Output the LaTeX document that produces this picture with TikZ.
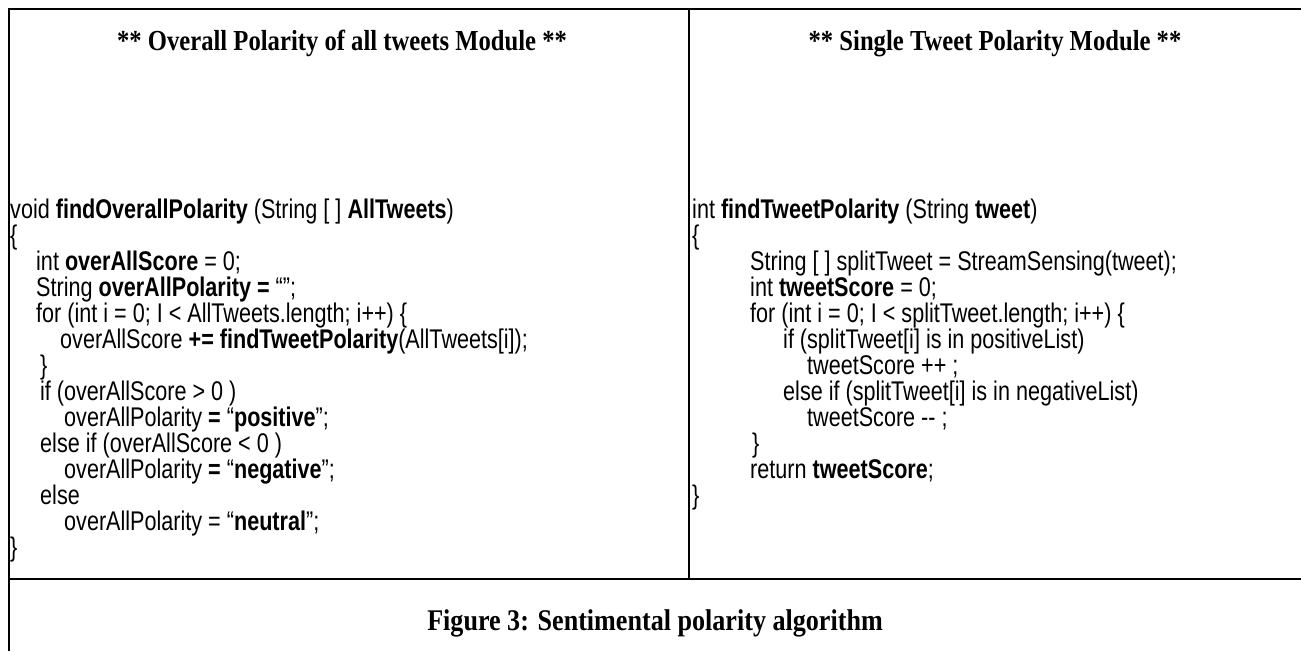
\documentclass[tikz,border=0pt]{standalone}
\usepackage{fontspec}
\setmainfont[Ligatures=TeXOff,FakeStretch=0.8]{Liberation Sans}
\newfontfamily\tnrhead[Ligatures=TeXOff,FakeStretch=0.85]{Liberation Serif}
\newfontfamily\tnrcap[Ligatures=TeXOff,FakeStretch=0.87]{Liberation Serif}
\begin{document}
\begin{tikzpicture}[x=1pt,y=-1pt,
  code/.style={anchor=base west, inner sep=0pt, font=\fontsize{27}{26}\selectfont},
  head/.style={anchor=base, inner sep=0pt, font=\tnrhead\bfseries\fontsize{29}{26}\selectfont},
  capt/.style={anchor=base, inner sep=0pt, font=\tnrcap\bfseries\fontsize{30}{26}\selectfont},
  rulebox/.style={line width=2.6pt}]
\useasboundingbox (0,0) rectangle (1301,651);
% frame
\coordinate (TL) at (9,9);
\coordinate (TR) at (1301,9);
\coordinate (BL) at (9,651);
\coordinate (ML) at (9,579);
\coordinate (MR) at (1301,579);
\coordinate (DT) at (689,9);
\coordinate (DB) at (689,579);
\draw[rulebox] (BL) -- (TL) -- (TR);
\draw[rulebox] (ML) -- (MR);
\draw[rulebox] (DT) -- (DB);
% titles
\node[head] (t1) at (342,50) {** Overall Polarity of all tweets Module **};
\node[head] (t2) at (995,50) {** Single Tweet Polarity Module **};
\node[capt] (cap) at (655,630) {Figure 3: Sentimental polarity algorithm};
% left column
\node[code] (l0) at (10,218) {void \textbf{findOverallPolarity} (String [ ] \textbf{AllTweets})};
\node[code] (l1) at (10,244) {\{};
\node[code] (l2) at (36,270) {int \textbf{overAllScore} = 0;};
\node[code] (l3) at (36,296) {String \textbf{overAllPolarity =} “”;};
\node[code] (l4) at (36,322) {for (int i = 0; I < AllTweets.length; i++) \{};
\node[code] (l5) at (60,348) {overAllScore \textbf{+= findTweetPolarity}(AllTweets[i]);};
\node[code] (l6) at (40,374) {\}};
\node[code] (l7) at (40,400) {if (overAllScore > 0 )};
\node[code] (l8) at (64,426) {overAllPolarity \textbf{=} “\textbf{positive}”;};
\node[code] (l9) at (40,452) {else if (overAllScore < 0 )};
\node[code] (l10) at (64,478) {overAllPolarity \textbf{=} “\textbf{negative}”;};
\node[code] (l11) at (40,504) {else};
\node[code] (l12) at (64,530) {overAllPolarity = “\textbf{neutral}”;};
\node[code] (l13) at (10,556) {\}};
% right column
\node[code] (r0) at (692,218) {int \textbf{findTweetPolarity} (String \textbf{tweet})};
\node[code] (r1) at (692,244) {\{};
\node[code] (r2) at (750,270) {String [ ] splitTweet = StreamSensing(tweet);};
\node[code] (r3) at (750,296) {int \textbf{tweetScore} = 0;};
\node[code] (r4) at (750,322) {for (int i = 0; I < splitTweet.length; i++) \{};
\node[code] (r5) at (783,348) {if (splitTweet[i] is in positiveList)};
\node[code] (r6) at (807,374) {tweetScore ++ ;};
\node[code] (r7) at (783,400) {else if (splitTweet[i] is in negativeList)};
\node[code] (r8) at (807,426) {tweetScore -- ;};
\node[code] (r9) at (752,452) {\}};
\node[code] (r10) at (750,478) {return \textbf{tweetScore};};
\node[code] (r11) at (692,504) {\}};
\end{tikzpicture}
\end{document}
